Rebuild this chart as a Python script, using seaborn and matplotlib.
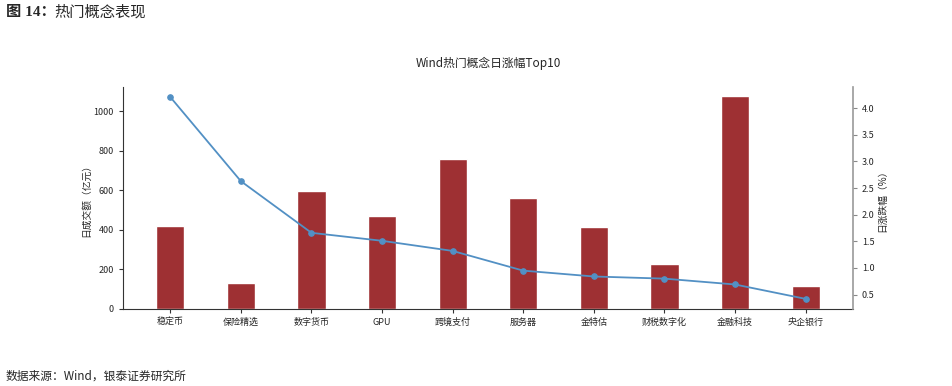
import matplotlib
matplotlib.use("Agg")
import matplotlib.pyplot as plt
import seaborn as sns
import pandas as pd

# data
concepts = ["稳定币", "保险精选", "数字货币", "GPU", "跨境支付", "服务器",
            "金特估", "财税数字化", "金融科技", "央企银行"]
turnover = [421, 131, 596, 470, 758, 561, 414, 227, 1076, 116]   # 日成交额（亿元）
pct_change = [4.21, 2.63, 1.66, 1.51, 1.32, 0.95, 0.84, 0.80, 0.69, 0.42]  # 日涨跌幅（%）

sns.set_style("white")
plt.rcParams["font.family"] = ["Noto Sans CJK SC", "DejaVu Sans"]
plt.rcParams["axes.unicode_minus"] = False

df = pd.DataFrame({"concept": concepts, "turnover": turnover, "pct": pct_change})

fig = plt.figure(figsize=(9.53, 3.86), dpi=100)
ax = fig.add_axes([0.129, 0.1995, 0.766, 0.5755])

sns.barplot(data=df, x="concept", y="turnover", color="#9e3033", width=0.4,
            saturation=1, ax=ax)
ax.set_xlim(-0.67, 9.67)
ax.set_ylim(0, 1123)
ax.set_xlabel("")
ax.set_ylabel("日成交额（亿元）", fontsize=7, labelpad=2)
ax.tick_params(axis="both", labelsize=6.5, length=3, direction="out",
               bottom=True, left=True, color="#333333")
for s in ["top", "right"]:
    ax.spines[s].set_visible(False)
for s in ["left", "bottom"]:
    ax.spines[s].set_color("#333333")
    ax.spines[s].set_linewidth(0.8)

ax2 = ax.twinx()
sns.lineplot(x=list(range(len(concepts))), y=pct_change, ax=ax2, color="#5290c4",
             marker="o", markersize=4, linewidth=1.3, markeredgecolor="#5290c4")
ax2.set_ylim(0.23, 4.40)
ax2.set_yticks([0.5, 1.0, 1.5, 2.0, 2.5, 3.0, 3.5, 4.0])
ax2.set_ylabel("日涨跌幅（%）", fontsize=7, labelpad=2)
ax2.tick_params(axis="y", labelsize=6.5, length=3, right=True, color="#888888")
for s in ["top", "left", "bottom"]:
    ax2.spines[s].set_visible(False)
ax2.spines["right"].set_color("#999999")
ax2.spines["right"].set_linewidth(1.2)

ax.set_title("Wind热门概念日涨幅Top10", fontsize=8.5, pad=14)

fig.text(0.006, 0.968, "图 14：", fontsize=11, fontweight="bold", va="center",
         family=["Liberation Serif", "Noto Sans CJK SC"])
fig.text(0.057, 0.968, "热门概念表现", fontsize=11, va="center")
fig.text(0.006, 0.026, "数据来源：Wind，银泰证券研究所", fontsize=8.5, va="center")

fig.savefig("out.png", dpi=100)
